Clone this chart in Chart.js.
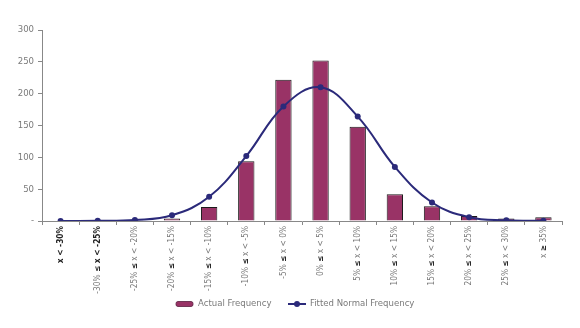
<!DOCTYPE html>
<html lang="en">
<head>
  <meta charset="UTF-8">
  <title>Return Distribution</title>
  <script src="https://cdn.jsdelivr.net/npm/chart.js"></script>
  <style>
    body { margin: 0; padding: 0; background: #fff; }
    #wrap { width: 580px; height: 328px; position: relative; }
  </style>
</head>
<body>
  <div id="wrap"><canvas id="distChart"></canvas></div>

  <script>
    const buckets = [
      'x < -30%', '-30% ≤ x < -25%', '-25% ≤ x < -20%', '-20% ≤ x < -15%',
      '-15% ≤ x < -10%', '-10% ≤ x < -5%', '-5% ≤ x < 0%', '0% ≤ x < 5%',
      '5% ≤ x < 10%', '10% ≤ x < 15%', '15% ≤ x < 20%', '20% ≤ x < 25%',
      '25% ≤ x < 30%', 'x ≥ 35%'
    ];
    const actualFreq = [0, 0, 1, 4, 22, 94, 222, 252, 148, 42, 23, 8, 4, 6];
    const fittedFreq = [0, 0.3, 1.5, 9, 38, 102, 180, 210, 164, 85, 29, 6, 1, 0.2];
    const yTicks = [0, 50, 100, 150, 200, 250, 300];

    const FONT = "'Liberation Sans Narrow', 'DejaVu Sans Condensed', sans-serif";
    const GREY = '#7a7a7a';
    const BAR = '#993366';
    const LINE = '#2b2a7a';

    // vertical category labels, reading bottom to top; the inequality signs are bolder
    const xLabelsPlugin = {
      id: 'xLabels',
      afterDraw(chart) {
        const ctx = chart.ctx;
        const xs = chart.scales.x;
        const top = chart.chartArea.bottom + 5;
        buckets.forEach((label, i) => {
          const x = xs.getPixelForValue(i);
          ctx.save();
          ctx.translate(x, top);
          ctx.rotate(-Math.PI / 2);
          ctx.textBaseline = 'middle';
          ctx.textAlign = 'left';
          // measure whole string to right-align at the axis
          let total = 0;
          const parts = [];
          let dark = i === 0;
          for (const ch of label) {
            const sign = ch === '≤' || ch === '≥';
            if (i === 1 && sign) dark = true;
            const bold = dark || sign;
            ctx.font = (bold ? 'bold ' : '') + '8.3px ' + FONT;
            const w = ctx.measureText(ch).width;
            parts.push({ ch, bold, color: bold ? '#222' : GREY, w });
            total += w;
          }
          let pos = -total;
          parts.forEach(p => {
            ctx.font = (p.bold ? 'bold ' : '') + '8.3px ' + FONT;
            ctx.fillStyle = p.color;
            ctx.fillText(p.ch, pos, 0);
            pos += p.w;
          });
          ctx.restore();
        });
      }
    };

    // legend under the chart
    const legendPlugin = {
      id: 'customLegend',
      afterDraw(chart) {
        const ctx = chart.ctx;
        const bars = chart.data.datasets.find(d => d.type === 'bar');
        const line = chart.data.datasets.find(d => d.type === 'line');
        const y = 304;
        ctx.save();
        ctx.font = '9.5px ' + FONT;
        ctx.textBaseline = 'middle';

        ctx.fillStyle = BAR;
        ctx.strokeStyle = '#5a2040';
        ctx.lineWidth = 0.8;
        ctx.beginPath();
        ctx.roundRect(176, y - 2.5, 17, 5, 2);
        ctx.fill();
        ctx.stroke();
        ctx.fillStyle = GREY;
        ctx.fillText(bars.label, 198, y);

        ctx.strokeStyle = LINE;
        ctx.lineWidth = 2;
        ctx.beginPath();
        ctx.moveTo(288, y);
        ctx.lineTo(306, y);
        ctx.stroke();
        ctx.fillStyle = LINE;
        ctx.beginPath();
        ctx.arc(297, y, 3, 0, Math.PI * 2);
        ctx.fill();
        ctx.fillStyle = GREY;
        ctx.fillText(line.label, 310, y);
        ctx.restore();
      }
    };

    const ctx = document.getElementById('distChart').getContext('2d');
    new Chart(ctx, {
      data: {
        labels: buckets,
        datasets: [
          {
            type: 'line',
            label: 'Fitted Normal Frequency',
            data: fittedFreq,
            borderColor: LINE,
            backgroundColor: LINE,
            borderWidth: 2,
            pointRadius: 3,
            pointBackgroundColor: LINE,
            pointBorderWidth: 0,
            tension: 0.4,
            fill: false,
            order: 0
          },
          {
            type: 'bar',
            label: 'Actual Frequency',
            data: actualFreq,
            backgroundColor: BAR,
            borderColor: '#1a1a1a',
            borderWidth: 1,
            barPercentage: 0.44,
            categoryPercentage: 1,
            order: 1
          }
        ]
      },
      options: {
        responsive: true,
        maintainAspectRatio: false,
        animation: false,
        layout: { padding: { top: 30, right: 18, left: 0, bottom: 0 } },
        scales: {
          x: {
            grid: {
              display: true,
              drawOnChartArea: false,
              offset: true,
              tickLength: 4,
              color: '#888'
            },
            border: { color: '#888' },
            ticks: { display: false },
            afterFit(scale) { scale.height = 107; }
          },
          y: {
            min: 0,
            max: 300,
            afterBuildTicks(scale) { scale.ticks = yTicks.map(v => ({ value: v })); },
            afterFit(scale) { scale.width = 42; },
            grid: {
              display: true,
              drawOnChartArea: false,
              tickLength: 4,
              color: '#888'
            },
            border: { color: '#888' },
            ticks: {
              color: GREY,
              font: { family: FONT, size: 9.5 },
              padding: 4,
              callback: v => v === 0 ? '-' : v
            }
          }
        },
        plugins: {
          legend: { display: false },
          tooltip: { enabled: false }
        }
      },
      plugins: [xLabelsPlugin, legendPlugin]
    });
  </script>
</body>
</html>
